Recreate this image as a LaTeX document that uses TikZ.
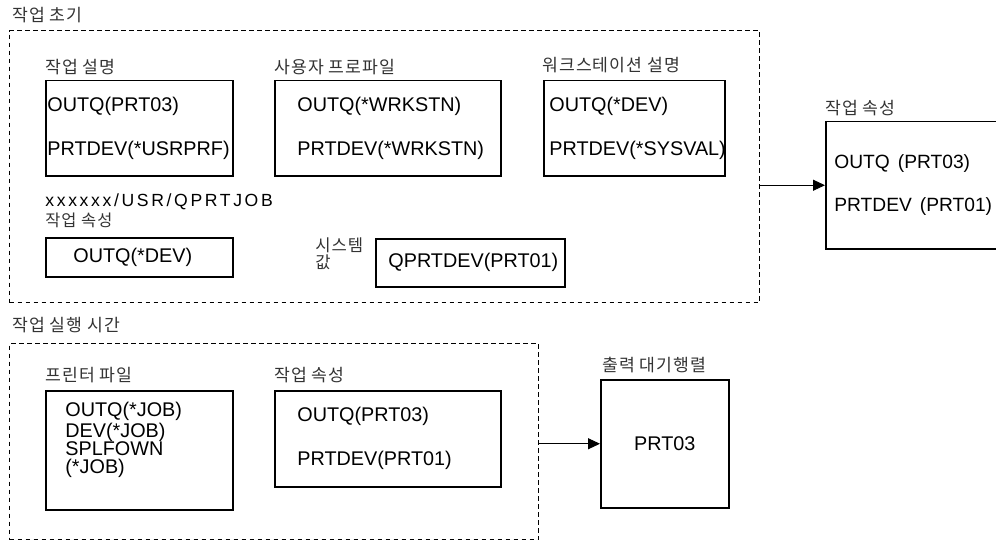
\documentclass[tikz,border=0pt]{standalone}
\usepackage{fontspec}
\setmainfont{Liberation Sans}
\newfontfamily\krfont[LetterSpace=6]{Noto Sans CJK KR}
\newfontfamily\spacedfont[LetterSpace=15]{Liberation Sans}
\usetikzlibrary{arrows.meta,positioning}

\begin{document}
\begin{tikzpicture}[x=0.5pt,y=-0.5pt,font=\fontsize{9.9}{12}\selectfont,
  frame/.style={draw,dash pattern=on 2.25pt off 1.75pt,line width=0.6pt,anchor=north west,inner sep=0},
  box/.style={draw,line width=0.75pt,anchor=north west,inner sep=0},
  title/.style={anchor=west,inner sep=0,text=black!80,font=\fontsize{8.6}{7}\selectfont\krfont},
  entry/.style={anchor=west,inner sep=0,align=left,font=\fontsize{9.9}{22}\selectfont},
  flow/.style={-{Triangle[length=6pt,width=5.5pt]},line width=0.5pt}]
\clip (0,0) rectangle (996,540);

% dashed groups
\node[frame,minimum width=375pt,minimum height=136pt] (init) at (9,30) {};
\node[frame,minimum width=264.5pt,minimum height=98pt] (run) at (9,343) {};
\node[title] (initlabel) at (12,15) {작업 초기};
\node[title] (runlabel) at (12,325) {작업 실행 시간};

% job initiation
\node[box,minimum width=93.5pt,minimum height=47.5pt] (jobd) at (45,80) {};
\node[title] (jobdlabel) at (45,67) {작업 설명};
\node[entry,right=1pt of jobd.west] (jobdtext) {OUTQ(PRT03)\\PRTDEV(*USRPRF)};

\node[box,minimum width=113pt,minimum height=47.5pt] (usrprf) at (274,80) {};
\node[title] (usrprflabel) at (274,67) {사용자 프로파일};
\node[entry,right=11.5pt of usrprf.west] (usrprftext) {OUTQ(*WRKSTN)\\PRTDEV(*WRKSTN)};

\node[box,minimum width=90.5pt,minimum height=47.5pt] (wsdev) at (543,80) {};
\node[title] (wsdevlabel) at (542,65) {워크스테이션 설명};
\node[entry,right=3pt of wsdev.west] (wsdevtext) {OUTQ(*DEV)\\PRTDEV(*SYSVAL)};

\node[anchor=west,inner sep=0,font=\fontsize{8.8}{10}\selectfont\spacedfont] (jobname) at (45,202) {xxxxxx/USR/QPRTJOB};
\node[title,font=\fontsize{8.2}{7}\selectfont\krfont] (jobattrlabel) at (45,220) {작업 속성};
\node[box,minimum width=93.5pt,minimum height=19.5pt] (jobattr) at (45,237) {};
\node[entry,right=14pt of jobattr.west] (jobattrtext) {OUTQ(*DEV)};

\node[title,align=left,font=\fontsize{8.3}{6.2}\selectfont\krfont] (sysvallabel) at (315,254) {시스템\\값};
\node[box,minimum width=94.5pt,minimum height=24pt] (sysval) at (375,238) {};
\node[entry,right=6.5pt of sysval.west] (sysvaltext) {QPRTDEV(PRT01)};

% resulting attributes
\node[box,minimum width=100pt,minimum height=63.5pt] (attr) at (825,121) {};
\node[title] (attrlabel) at (825,108) {작업 속성};
\node[entry,font=\fontsize{9.6}{21.5}\selectfont,right=4.5pt of attr.west] (attrtext) {OUTQ\hspace{4pt}(PRT03)\\PRTDEV\hspace{4pt}(PRT01)};

% job run time
\node[box,minimum width=93.5pt,minimum height=59.5pt] (prtf) at (45,390) {};
\node[title] (prtflabel) at (45,375) {프린터 파일};
\node[anchor=north west,inner sep=0,align=left,font=\fontsize{9.9}{9.2}\selectfont,below right=6pt and 10pt of prtf.north west] (prtftext) {OUTQ(*JOB)\\DEV(*JOB)\\SPLFOWN\\(*JOB)};

\node[box,minimum width=113pt,minimum height=48pt] (runattr) at (274,390) {};
\node[title] (runattrlabel) at (274,375) {작업 속성};
\node[entry,right=11.5pt of runattr.west] (runattrtext) {OUTQ(PRT03)\\PRTDEV(PRT01)};

\node[box,minimum width=64pt,minimum height=64pt] (outq) at (600,379) {PRT03};
\node[title] (outqlabel) at (602,365) {출력 대기행렬};

\draw[flow] (init.east |- attr.west) -- (attr.west);
\draw[flow] (run.east |- outq.west) -- (outq.west);
\end{tikzpicture}
\end{document}
